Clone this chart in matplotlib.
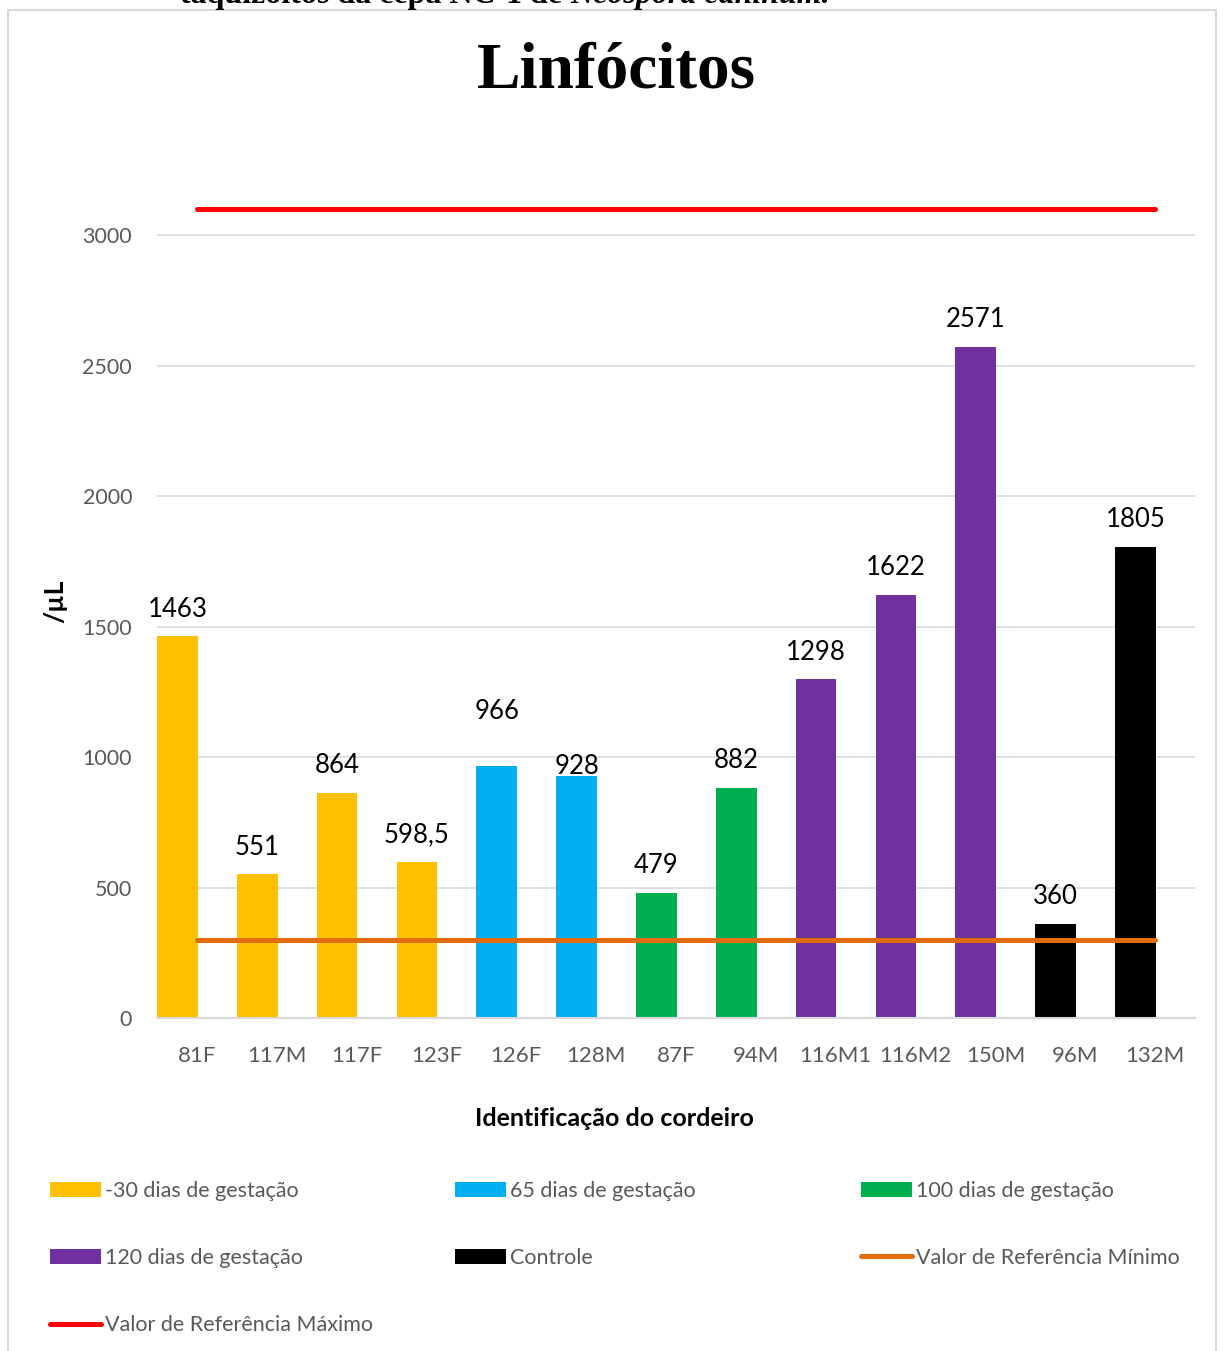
import matplotlib
matplotlib.use("Agg")
import matplotlib.pyplot as plt
from matplotlib.patches import Rectangle

plt.rcParams['font.family'] = ['Lato', 'DejaVu Sans']

categories = ["81F", "117M", "117F", "123F", "126F", "128M", "87F", "94M",
              "116M1", "116M2", "150M", "96M", "132M"]
values = [1463, 551, 864, 598.5, 966, 928, 479, 882, 1298, 1622, 2571, 360, 1805]
value_labels = ["1463", "551", "864", "598,5", "966", "928", "479", "882",
                "1298", "1622", "2571", "360", "1805"]
groups = [0, 0, 0, 0, 1, 1, 2, 2, 3, 3, 3, 4, 4]
group_names = ["-30 dias de gestação", "65 dias de gestação", "100 dias de gestação",
               "120 dias de gestação", "Controle"]
group_colors = ["#FFC000", "#00B0F0", "#00B050", "#7030A0", "#000000"]
ref_min = 300
ref_max = 3100
ref_min_name = "Valor de Referência Mínimo"
ref_max_name = "Valor de Referência Máximo"
label_offsets = [19.5, 19.5, 19.5, 19.5, 39, 7, 19.5, 19.5, 19.5, 19.5, 19.5, 19.5, 19.5]  # points above bar top

W, H = 1224, 1351
fig = plt.figure(figsize=(W / 100, H / 100), dpi=100)

# outer frame
fig.patches.append(Rectangle((8 / W, -0.05), (1216 - 8) / W, 1.05 - 10 / H,
                             transform=fig.transFigure, fill=False,
                             edgecolor="#D9D9D9", linewidth=1.5))

# cut-off caption at the very top
t1 = fig.text(180 / W, 1 - 3 / H, "taquizoítos da cepa NC-1 de ", family="Liberation Serif",
              fontweight="bold", fontsize=23, va="baseline", ha="left")
fig.canvas.draw()
bb = t1.get_window_extent()
fig.text(bb.x1 / W, 1 - 3 / H, "Neospora caninum.", family="Liberation Serif",
         fontweight="bold", fontstyle="italic", fontsize=23, va="baseline", ha="left")

fig.text(616 / W, 1 - 72 / H, "Linfócitos", family="Liberation Serif", fontweight="bold",
         fontsize=47, ha="center", va="center")

ax = fig.add_axes([157 / W, 333 / H, (1195 - 157) / W, (1018 - 149) / H])
xs = list(range(len(categories)))

for g, (name, col) in enumerate(zip(group_names, group_colors)):
    gx = [x - 0.5 for x, gg in zip(xs, groups) if gg == g]
    gv = [v for v, gg in zip(values, groups) if gg == g]
    ax.bar(gx, gv, width=0.51, align="edge", color=col, label=name, zorder=2)

for x, v, lab, off in zip(xs, values, value_labels, label_offsets):
    ax.annotate(lab, (x - 0.245, v), xytext=(0, off), textcoords="offset points",
                ha="center", va="center", fontsize=18.5, color="black", zorder=4)

ln_min, = ax.plot([xs[0], xs[-1]], [ref_min, ref_min], color="#E36C09", lw=3.6,
                  solid_capstyle="round", label=ref_min_name, zorder=3)
ln_max, = ax.plot([xs[0], xs[-1]], [ref_max, ref_max], color="#FF0000", lw=3.6,
                  solid_capstyle="round", label=ref_max_name, zorder=3)

ax.set_xlim(-0.5, len(categories) - 0.5)
ax.set_ylim(0, 3330)
ax.set_yticks([0, 500, 1000, 1500, 2000, 2500, 3000])
ax.set_xticks(xs)
ax.set_xticklabels(categories)
ax.tick_params(axis="both", length=0, labelcolor="#595959")
ax.tick_params(axis="x", pad=20, labelsize=16)
ax.tick_params(axis="y", pad=18, labelsize=15.5)
ax.grid(axis="y", color="#D9D9D9", lw=1.2, zorder=0)
ax.set_axisbelow(True)
for s in ["top", "right", "left"]:
    ax.spines[s].set_visible(False)
ax.spines["bottom"].set_color("#D9D9D9")
ax.spines["bottom"].set_linewidth(1.5)

fig.text(614 / W, 1 - 1118 / H, "Identificação do cordeiro", fontsize=18, fontweight="bold",
         ha="center", va="center", color="black")
fig.text(55 / W, 1 - 601 / H, "/µL", fontsize=19, fontweight="bold", rotation=90,
         ha="center", va="center", color="black")

# legend: three columns
handles, labels = ax.get_legend_handles_labels()
hmap = dict(zip(labels, handles))
cols = [
    [group_names[0], group_names[3], ref_max_name],
    [group_names[1], group_names[4]],
    [group_names[2], ref_min_name],
]
col_x = [41, 446, 852]
for cx, names in zip(col_x, cols):
    fig.legend([hmap[n] for n in names], names, loc="upper left",
               bbox_to_anchor=(cx / W, 1 - 1172 / H), frameon=False,
               fontsize=15.5, labelcolor="#595959", handlelength=2.4,
               handleheight=0.7, handletextpad=0.15, labelspacing=2.2,
               borderaxespad=0)

fig.savefig("out.png", dpi=100)
